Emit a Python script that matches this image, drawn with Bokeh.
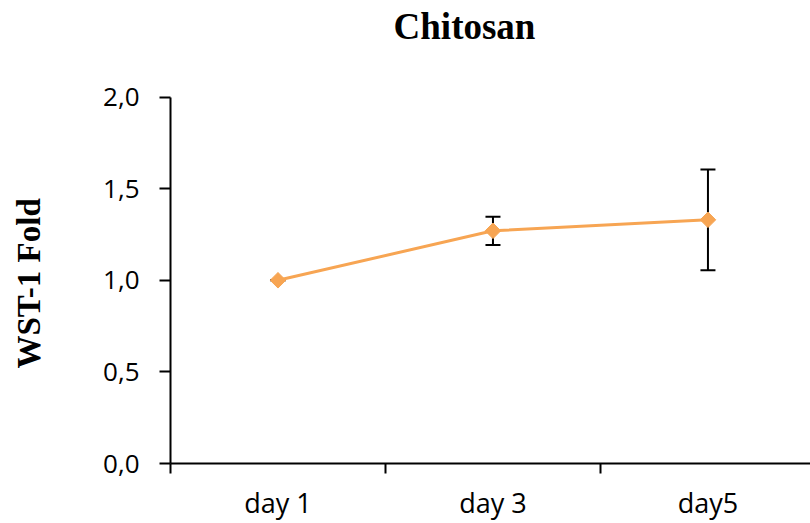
import math
from bokeh.plotting import figure
from bokeh.models import (Range1d, FixedTicker, Whisker, ColumnDataSource, TeeHead,
                          Label, Title)
from bokeh.embed import file_html
from bokeh.resources import INLINE

# ---- data ----
categories = ["day 1", "day 3", "day5"]
means = [1.00, 1.27, 1.33]
errors = [0.0, 0.077, 0.275]
y_ticks = [0.0, 0.5, 1.0, 1.5, 2.0]
y_tick_labels = ["0,0", "0,5", "1,0", "1,5", "2,0"]
title_text = "Chitosan"
y_label = "WST-1  Fold"

ORANGE = "#F7A553"

xs = [i + 0.5 for i in range(len(categories))]
bounds = [float(i) for i in range(len(categories) + 1)]
upper = [m + e for m, e in zip(means, errors)]
lower = [m - e for m, e in zip(means, errors)]
src = ColumnDataSource(dict(x=xs, y=means, upper=upper, lower=lower))

# frame spans the full height above the x axis so that the title can sit inside it;
# the y axis itself is bounded to 0..2
p = figure(width=810, height=523, output_backend="svg", toolbar_location=None,
           title=None,
           x_range=Range1d(0, 2.977), y_range=Range1d(0, 2.527),
           min_border_left=170, min_border_right=0, min_border_top=0,
           min_border_bottom=58)
p.outline_line_color = None
p.xgrid.visible = False
p.ygrid.visible = False
p.background_fill_color = "white"
p.border_fill_color = "white"

# title (screen units, measured from the frame's bottom-left corner)
title = Label(x=294, y=437, x_units="screen", y_units="screen", text=title_text,
              text_font="Liberation Serif", text_font_style="bold",
              text_font_size="37px", text_color="black",
              text_align="center", text_baseline="middle")
p.add_layout(title)

# y axis
ya = p.yaxis[0]
ya.bounds = (y_ticks[0], y_ticks[-1])
ya.ticker = FixedTicker(ticks=y_ticks, minor_ticks=[])
ya.major_label_overrides = {t: l for t, l in zip(y_ticks, y_tick_labels)}
ya.axis_line_color = "black"
ya.axis_line_width = 2
ya.major_tick_line_color = "black"
ya.major_tick_line_width = 2
ya.major_tick_in = 0
ya.major_tick_out = 11
ya.minor_tick_line_color = None
ya.major_label_text_font = "Open Sans"
ya.major_label_text_font_size = "26px"
ya.major_label_text_color = "black"
ya.major_label_standoff = 20

# y axis title: a spacer panel, then the vertical title placed along the 0..2 part
spacer = Title(text=" ", text_font_size="1px", standoff=50)
p.add_layout(spacer, "left")
ytitle = Title(text=y_label, align="left", offset=95, standoff=0,
               vertical_align="middle",
               text_font="Liberation Serif", text_font_style="bold",
               text_font_size="33px", text_color="black")
p.add_layout(ytitle, "left")

# x axis
xa = p.xaxis[0]
xa.ticker = FixedTicker(ticks=xs, minor_ticks=bounds)
xa.major_label_overrides = {x: c for x, c in zip(xs, categories)}
xa.axis_line_color = "black"
xa.axis_line_width = 2
xa.major_tick_line_color = None
xa.major_tick_in = 0
xa.major_tick_out = 0
xa.minor_tick_line_color = "black"
xa.minor_tick_line_width = 2
xa.minor_tick_in = 0
xa.minor_tick_out = 10
xa.major_label_text_font = "Open Sans"
xa.major_label_text_font_size = "27px"
xa.major_label_text_color = "black"
xa.major_label_standoff = 10

# error bars
wh = Whisker(source=src, base="x", upper="upper", lower="lower", dimension="height",
             line_color="black", line_width=2, level="underlay",
             upper_head=TeeHead(size=15, line_color="black", line_width=2),
             lower_head=TeeHead(size=15, line_color="black", line_width=2))
p.add_layout(wh)

p.line("x", "y", source=src, line_color=ORANGE, line_width=3)
p.scatter("x", "y", source=src, marker="square", angle=math.pi / 4, size=11,
          fill_color=ORANGE, line_color=ORANGE)

open("out.html", "w").write(file_html(p, INLINE))
